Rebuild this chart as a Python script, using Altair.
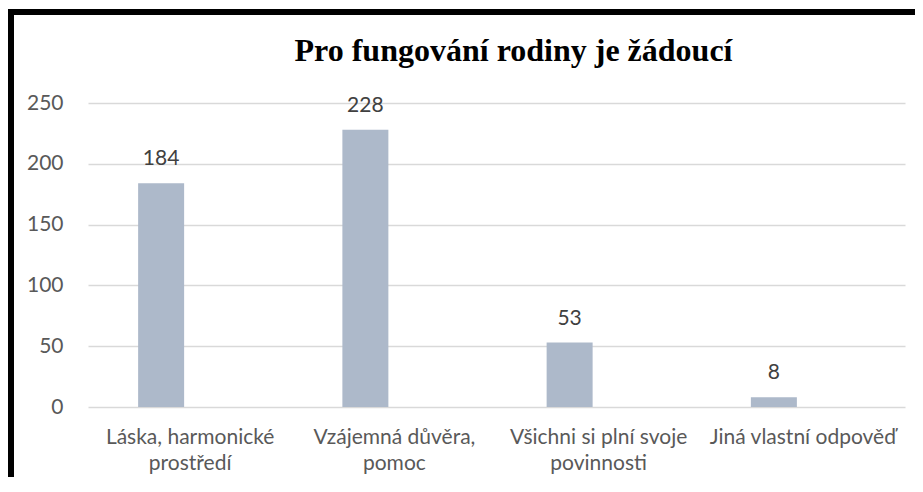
import altair as alt
import pandas as pd

categories = [
    "Láska, harmonické\nprostředí",
    "Vzájemná důvěra,\npomoc",
    "Všichni si plní svoje\npovinnosti",
    "Jiná vlastní odpověď",
]
values = [184, 228, 53, 8]
y_ticks = [0, 50, 100, 150, 200, 250]
title_text = "Pro fungování rodiny je žádoucí"

df = pd.DataFrame({"category": categories, "value": values})
frame_df = pd.DataFrame({"k": [0]})

W, H = 817, 304
LABEL_COLOR = "#595959"
FONT = "Lato"
FS = 21

x_enc = alt.X(
    "category:N",
    sort=None,
    scale=alt.Scale(paddingInner=0, paddingOuter=0),
    axis=alt.Axis(
        title=None,
        labelAngle=0,
        labelExpr="split(datum.value, '\\n')",
        labelFont=FONT,
        labelFontSize=FS,
        labelColor=LABEL_COLOR,
        labelPadding=19,
        labelLineHeight=26,
        labelBaseline="top",
        labelLimit=0,
        labelOverlap=False,
        ticks=False,
        domain=False,
        grid=False,
    ),
)
y_enc = alt.Y(
    "value:Q",
    scale=alt.Scale(domain=[0, 250], nice=False),
    axis=alt.Axis(
        title=None,
        values=y_ticks,
        labelFont=FONT,
        labelFontSize=FS,
        labelColor=LABEL_COLOR,
        labelPadding=25,
        ticks=False,
        domain=False,
        grid=True,
        gridColor="#d9d9d9",
        gridWidth=1.3,
    ),
)

bars = alt.Chart(df).mark_bar(color="#adb9ca", width=46, xOffset=-29).encode(x=x_enc, y=y_enc)
labels = alt.Chart(df).mark_text(
    font=FONT, fontSize=FS, color="#404040", dy=-18, xOffset=-29, baseline="alphabetic"
).encode(x=x_enc, y=y_enc, text="value:Q")

left_line = alt.Chart(frame_df).mark_rule(color="black", strokeWidth=6).encode(
    x=alt.value(-77), y=alt.value(-94), y2=alt.value(H + 90)
)
top_line = alt.Chart(frame_df).mark_rule(color="black", strokeWidth=6).encode(
    x=alt.value(-80), x2=alt.value(W + 12), y=alt.value(-91)
)

chart = (
    alt.layer(bars, labels, left_line, top_line)
    .properties(
        width=W,
        height=H,
        title=alt.Title(
            title_text,
            font="Liberation Serif",
            fontSize=32,
            fontWeight="bold",
            color="black",
            anchor="middle",
            dx=17,
            dy=118,
            offset=31,
            baseline="alphabetic",
        ),
        autosize=alt.AutoSizeParams(type="none"),
        padding={"left": 80, "top": 95, "right": 10, "bottom": 70},
        background="white",
    )
    .configure_view(stroke=None)
)

chart.save("out.html", embed_options={"renderer": "svg", "actions": False})
